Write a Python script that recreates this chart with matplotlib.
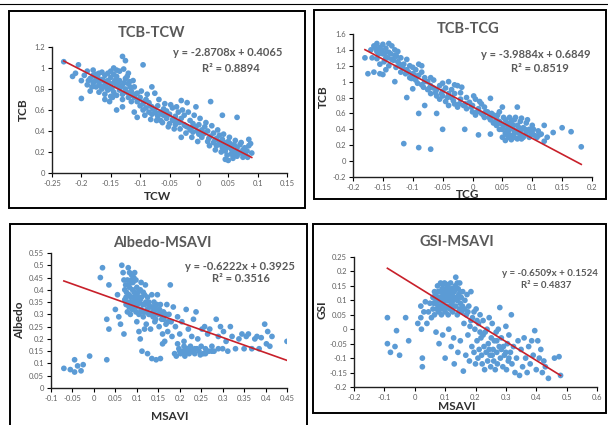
import matplotlib
matplotlib.use("Agg")
import matplotlib.pyplot as plt
from matplotlib.patches import Rectangle
from matplotlib.lines import Line2D
from matplotlib.ticker import MultipleLocator, FuncFormatter
import numpy as np

plt.rcParams['font.family'] = ['Lato', 'DejaVu Sans']

# ---- panel 1: TCB vs TCW ----
tcw_x = [-0.230, -0.215, -0.210, -0.205, -0.200, -0.200, -0.195, -0.190, -0.190, -0.185,
         -0.185, -0.180, -0.180, -0.180, -0.175, -0.175, -0.170, -0.170, -0.170, -0.165,
         -0.165, -0.160, -0.160, -0.160, -0.155, -0.155, -0.150, -0.150, -0.150, -0.145,
         -0.145, -0.145, -0.140, -0.140, -0.140, -0.140, -0.135, -0.135, -0.135, -0.130,
         -0.130, -0.130, -0.130, -0.125, -0.125, -0.125, -0.120, -0.120, -0.120, -0.115,
         -0.115, -0.110, -0.110, -0.110, -0.105, -0.105, -0.105, -0.100, -0.100, -0.095,
         -0.095, -0.095, -0.090, -0.090, -0.085, -0.085, -0.080, -0.080, -0.080, -0.075,
         -0.075, -0.070, -0.070, -0.065, -0.065, -0.060, -0.060, -0.055, -0.055, -0.050,
         -0.050, -0.045, -0.045, -0.040, -0.040, -0.035, -0.035, -0.030, -0.030, -0.030,
         -0.025, -0.025, -0.020, -0.020, -0.015, -0.015, -0.010, -0.010, -0.005, -0.005,
         0.000, 0.000, 0.005, 0.005, 0.010, 0.010, 0.015, 0.015, 0.020, 0.020,
         0.025, 0.025, 0.030, 0.030, 0.035, 0.035, 0.040, 0.040, 0.040, 0.045,
         0.045, 0.045, 0.050, 0.050, 0.050, 0.055, 0.055, 0.060, 0.060, 0.065,
         0.065, 0.065, 0.070, 0.070, 0.075, 0.075, 0.080, 0.085, 0.085, 0.090,
         -0.175, -0.165, -0.155, -0.150, -0.145, -0.140, -0.128, -0.122, -0.118, -0.112,
         -0.160, -0.152, -0.147, -0.130, -0.115, -0.098, -0.088, -0.068, -0.058, -0.048,
         -0.038, -0.028, -0.018, -0.008, 0.002, 0.012, 0.022, 0.032, 0.042, 0.052,
         0.062, 0.072, 0.078, 0.082, 0.088, 0.058, 0.048, 0.038, 0.028, 0.018,
         -0.002, -0.012, -0.022, -0.032, -0.042, -0.052, -0.062, -0.072, -0.082, -0.092,
         -0.188, -0.182, -0.178, -0.172, -0.168, -0.162, -0.158, -0.153, -0.148, -0.143,
         -0.138, -0.133, -0.127, -0.123, -0.117, -0.108, -0.102, -0.093, -0.083, -0.078,
         -0.073, -0.063, -0.053, -0.043, -0.033, -0.023, -0.013, -0.003, 0.007, 0.017,
         0.027, 0.037, 0.047, 0.057, 0.067, 0.077, 0.083, 0.062, 0.053, 0.043]
tcw_y = [1.06, 0.92, 0.95, 1.03, 0.71, 0.88, 0.93, 0.84, 0.97, 0.90,
         0.78, 0.86, 0.93, 0.98, 0.82, 0.90, 0.77, 0.86, 0.95, 0.80,
         0.89, 0.75, 0.84, 0.93, 0.79, 0.88, 0.73, 0.82, 0.91, 1.00,
         0.77, 0.86, 0.74, 0.83, 0.92, 0.60, 0.79, 0.88, 0.97, 1.11,
         0.75, 0.84, 0.63, 1.07, 0.80, 0.90, 0.72, 0.85, 0.95, 0.68,
         0.78, 0.58, 0.72, 0.82, 0.53, 0.68, 0.76, 0.64, 0.72, 1.03,
         0.66, 0.60, 0.70, 0.62, 0.58, 0.67, 0.82, 0.63, 0.56, 0.76,
         0.60, 0.54, 0.64, 0.58, 0.50, 0.61, 0.55, 0.52, 0.59, 0.47,
         0.56, 0.62, 0.51, 0.54, 0.46, 0.58, 0.49, 0.69, 0.34, 0.52,
         0.46, 0.55, 0.67, 0.44, 0.50, 0.41, 0.47, 0.39, 0.63, 0.44,
         0.37, 0.46, 0.41, 0.34, 0.44, 0.38, 0.30, 0.40, 0.68, 0.35,
         0.29, 0.38, 0.33, 0.26, 0.36, 0.30, 0.55, 0.24, 0.32, 0.13,
         0.28, 0.21, 0.12, 0.25, 0.30, 0.18, 0.23, 0.27, 0.20, 0.53,
         0.16, 0.24, 0.19, 0.27, 0.15, 0.22, 0.17, 0.32, 0.26, 0.19,
         0.94, 0.96, 0.95, 0.97, 0.94, 0.98, 0.99, 0.92, 0.87, 0.88,
         0.70, 0.68, 0.72, 0.70, 0.74, 0.78, 0.75, 0.70, 0.66, 0.65,
         0.63, 0.60, 0.58, 0.55, 0.52, 0.48, 0.45, 0.41, 0.37, 0.34,
         0.31, 0.29, 0.24, 0.21, 0.28, 0.14, 0.17, 0.20, 0.22, 0.26,
         0.30, 0.34, 0.38, 0.42, 0.42, 0.44, 0.48, 0.50, 0.51, 0.55,
         0.88, 0.82, 0.87, 0.91, 0.83, 0.88, 0.82, 0.86, 0.80, 0.88,
         0.86, 0.82, 0.86, 0.77, 0.82, 0.75, 0.70, 0.68, 0.64, 0.61,
         0.57, 0.56, 0.55, 0.50, 0.48, 0.45, 0.43, 0.40, 0.37, 0.33,
         0.31, 0.27, 0.24, 0.21, 0.20, 0.19, 0.15, 0.17, 0.28, 0.29]

# ---- panel 2: TCB vs TCG ----
tcg_x = [-0.180, -0.175, -0.170, -0.168, -0.165, -0.165, -0.160, -0.160, -0.160, -0.155,
         -0.155, -0.155, -0.150, -0.150, -0.150, -0.148, -0.145, -0.145, -0.140, -0.140,
         -0.140, -0.135, -0.135, -0.130, -0.130, -0.130, -0.128, -0.125, -0.125, -0.120,
         -0.120, -0.115, -0.115, -0.110, -0.110, -0.110, -0.105, -0.105, -0.100, -0.100,
         -0.095, -0.095, -0.090, -0.090, -0.090, -0.085, -0.085, -0.080, -0.080, -0.080,
         -0.075, -0.075, -0.070, -0.070, -0.070, -0.065, -0.065, -0.060, -0.060, -0.060,
         -0.055, -0.055, -0.050, -0.050, -0.050, -0.045, -0.045, -0.040, -0.040, -0.040,
         -0.035, -0.035, -0.030, -0.030, -0.025, -0.025, -0.020, -0.020, -0.015, -0.013,
         -0.010, -0.010, -0.005, 0.000, 0.000, 0.005, 0.005, 0.010, 0.010, 0.015,
         0.015, 0.020, 0.020, 0.025, 0.030, 0.030, 0.030, 0.035, 0.035, 0.040,
         0.040, 0.045, 0.045, 0.050, 0.050, 0.050, 0.055, 0.055, 0.055, 0.060,
         0.060, 0.060, 0.065, 0.065, 0.065, 0.070, 0.070, 0.070, 0.075, 0.075,
         0.075, 0.080, 0.080, 0.080, 0.085, 0.085, 0.090, 0.090, 0.095, 0.095,
         0.100, 0.100, 0.105, 0.110, 0.115, 0.120, 0.120, 0.125, 0.135, 0.150,
         0.165, 0.182, -0.145, -0.120, -0.100, -0.090, -0.085, -0.070, -0.050, -0.030,
         -0.018, 0.002, 0.012, 0.022, 0.032, 0.042, 0.052, 0.062, 0.072, 0.082,
         0.058, 0.068, 0.078, 0.088, 0.098, 0.108, 0.062, 0.052, 0.045, 0.092,
         -0.162, -0.157, -0.152, -0.147, -0.142, -0.137, -0.132, -0.127, -0.122, -0.117,
         -0.112, -0.107, -0.102, -0.097, -0.092, -0.082, -0.072, -0.062, -0.052, -0.042,
         -0.032, -0.022, -0.012, -0.002, 0.008, 0.018, 0.028, 0.038, 0.048, 0.058,
         0.068, 0.078, 0.088, 0.098, 0.058, 0.068, 0.082, 0.102, 0.112, 0.072]
tcg_y = [1.30, 1.10, 1.40, 1.30, 1.45, 1.12, 1.48, 1.38, 1.29, 1.10,
         1.43, 1.22, 1.09, 1.47, 1.35, 1.25, 1.42, 1.30, 1.48, 1.20,
         1.37, 1.45, 1.28, 1.40, 1.00, 1.33, 1.18, 1.38, 1.25, 1.30,
         1.12, 0.22, 1.22, 0.80, 1.28, 1.15, 1.05, 1.20, 0.91, 1.10,
         1.15, 1.02, 0.17, 0.60, 1.08, 0.96, 1.12, 0.70, 1.00, 1.05,
         0.90, 1.00, 0.15, 0.95, 0.85, 0.92, 1.02, 0.60, 0.82, 0.90,
         0.95, 0.78, 0.40, 0.88, 0.82, 0.75, 0.92, 1.00, 0.85, 0.70,
         0.80, 0.90, 0.72, 0.85, 0.95, 0.68, 0.78, 0.86, 0.70, 0.40,
         0.80, 0.66, 0.74, 0.62, 0.70, 0.78, 0.58, 0.33, 0.66, 0.60,
         0.72, 0.55, 0.68, 0.62, 0.79, 0.34, 0.52, 0.58, 0.48, 0.55,
         0.45, 0.50, 0.62, 0.68, 0.40, 0.30, 0.52, 0.35, 0.26, 0.45,
         0.30, 0.38, 0.50, 0.27, 0.42, 0.35, 0.52, 0.30, 0.68, 0.45,
         0.28, 0.38, 0.50, 0.32, 0.42, 0.30, 0.48, 0.36, 0.40, 0.30,
         0.35, 0.45, 0.32, 0.38, 0.34, 0.25, 0.45, 0.30, 0.36, 0.42,
         0.37, 0.18, 1.15, 1.20, 1.18, 1.22, 1.20, 1.05, 0.98, 0.96,
         0.93, 0.82, 0.75, 0.62, 0.60, 0.58, 0.55, 0.55, 0.55, 0.54,
         0.48, 0.40, 0.35, 0.33, 0.38, 0.30, 0.33, 0.45, 0.40, 0.52,
         1.42, 1.35, 1.40, 1.36, 1.30, 1.35, 1.27, 1.32, 1.22, 1.18,
         1.10, 1.12, 1.04, 1.08, 0.98, 0.93, 0.92, 0.86, 0.85, 0.80,
         0.76, 0.72, 0.72, 0.68, 0.62, 0.58, 0.55, 0.50, 0.47, 0.40,
         0.45, 0.42, 0.40, 0.33, 0.33, 0.32, 0.28, 0.40, 0.33, 0.38]

# ---- panel 3: Albedo vs MSAVI ----
alb_x = [-0.070, -0.055, -0.045, -0.045, -0.038, -0.030, -0.025, -0.010, 0.030, 0.015,
         0.020, 0.030, 0.035, 0.035, 0.050, 0.055, 0.058, 0.062, 0.070, 0.065,
         0.068, 0.070, 0.072, 0.075, 0.075, 0.078, 0.080, 0.080, 0.082, 0.085,
         0.085, 0.088, 0.090, 0.090, 0.092, 0.095, 0.095, 0.098, 0.100, 0.100,
         0.100, 0.102, 0.105, 0.105, 0.108, 0.110, 0.110, 0.112, 0.115, 0.115,
         0.118, 0.120, 0.120, 0.122, 0.125, 0.125, 0.128, 0.130, 0.132, 0.135,
         0.135, 0.138, 0.140, 0.142, 0.145, 0.145, 0.148, 0.150, 0.152, 0.155,
         0.155, 0.158, 0.160, 0.162, 0.165, 0.168, 0.170, 0.172, 0.175, 0.178,
         0.180, 0.182, 0.185, 0.188, 0.190, 0.192, 0.195, 0.198, 0.200, 0.202,
         0.205, 0.208, 0.210, 0.212, 0.215, 0.218, 0.220, 0.222, 0.225, 0.228,
         0.230, 0.232, 0.235, 0.238, 0.240, 0.242, 0.245, 0.250, 0.252, 0.255,
         0.258, 0.260, 0.265, 0.268, 0.270, 0.275, 0.280, 0.285, 0.290, 0.295,
         0.300, 0.302, 0.308, 0.312, 0.318, 0.322, 0.330, 0.338, 0.345, 0.350,
         0.355, 0.360, 0.368, 0.375, 0.380, 0.385, 0.390, 0.398, 0.402, 0.405,
         0.410, 0.415, 0.450, 0.108, 0.118, 0.160, 0.195, 0.210, 0.228, 0.248,
         0.078, 0.088, 0.098, 0.108, 0.118, 0.128, 0.138, 0.102, 0.092, 0.082,
         0.072, 0.076, 0.079, 0.083, 0.086, 0.089, 0.091, 0.094, 0.097, 0.099,
         0.103, 0.106, 0.109, 0.111, 0.114, 0.117, 0.121, 0.124, 0.127, 0.131,
         0.134, 0.137, 0.141, 0.144, 0.147, 0.153, 0.157, 0.163, 0.168, 0.173,
         0.083, 0.087, 0.093, 0.074, 0.200, 0.215, 0.235, 0.260, 0.275, 0.290]
alb_y = [0.080, 0.075, 0.065, 0.115, 0.090, 0.070, 0.095, 0.130, 0.115, 0.450,
         0.490, 0.280, 0.420, 0.240, 0.320, 0.380, 0.290, 0.260, 0.220, 0.500,
         0.470, 0.440, 0.400, 0.370, 0.340, 0.310, 0.490, 0.420, 0.380, 0.350,
         0.300, 0.460, 0.400, 0.330, 0.370, 0.470, 0.350, 0.310, 0.410, 0.380,
         0.270, 0.340, 0.300, 0.230, 0.360, 0.430, 0.320, 0.150, 0.390, 0.290,
         0.340, 0.420, 0.310, 0.260, 0.370, 0.140, 0.300, 0.330, 0.240, 0.380,
         0.120, 0.290, 0.350, 0.270, 0.115, 0.320, 0.380, 0.300, 0.250, 0.120,
         0.340, 0.280, 0.220, 0.310, 0.190, 0.260, 0.340, 0.230, 0.300, 0.420,
         0.270, 0.210, 0.330, 0.140, 0.250, 0.130, 0.290, 0.160, 0.220, 0.140,
         0.270, 0.150, 0.190, 0.130, 0.320, 0.160, 0.240, 0.140, 0.170, 0.210,
         0.150, 0.280, 0.140, 0.310, 0.160, 0.200, 0.150, 0.170, 0.240, 0.140,
         0.250, 0.160, 0.220, 0.150, 0.240, 0.170, 0.150, 0.280, 0.210, 0.250,
         0.160, 0.230, 0.190, 0.150, 0.250, 0.210, 0.160, 0.200, 0.220, 0.160,
         0.210, 0.220, 0.160, 0.200, 0.210, 0.160, 0.205, 0.260, 0.180, 0.230,
         0.170, 0.210, 0.190, 0.200, 0.240, 0.180, 0.180, 0.170, 0.150, 0.135,
         0.440, 0.430, 0.440, 0.400, 0.380, 0.350, 0.330, 0.370, 0.350, 0.330,
         0.360, 0.390, 0.350, 0.410, 0.370, 0.320, 0.430, 0.390, 0.360, 0.330,
         0.390, 0.350, 0.310, 0.370, 0.340, 0.310, 0.350, 0.320, 0.340, 0.300,
         0.330, 0.310, 0.300, 0.280, 0.340, 0.320, 0.300, 0.280, 0.300, 0.270,
         0.470, 0.440, 0.450, 0.420, 0.150, 0.145, 0.160, 0.140, 0.150, 0.160]

# ---- panel 4: GSI vs MSAVI ----
gsi_x = [-0.090, -0.090, -0.080, -0.065, -0.060, -0.050, -0.030, -0.020, 0.010, 0.020,
         0.020, 0.025, 0.025, 0.022, 0.030, 0.035, 0.040, 0.045, 0.050, 0.055,
         0.060, 0.060, 0.065, 0.065, 0.070, 0.070, 0.075, 0.075, 0.078, 0.080,
         0.080, 0.082, 0.085, 0.085, 0.088, 0.090, 0.090, 0.092, 0.095, 0.095,
         0.098, 0.100, 0.100, 0.100, 0.102, 0.105, 0.105, 0.108, 0.110, 0.110,
         0.112, 0.115, 0.115, 0.118, 0.120, 0.120, 0.122, 0.125, 0.125, 0.128,
         0.130, 0.132, 0.135, 0.135, 0.138, 0.140, 0.142, 0.145, 0.148, 0.150,
         0.150, 0.155, 0.158, 0.160, 0.162, 0.165, 0.168, 0.170, 0.172, 0.175,
         0.178, 0.180, 0.182, 0.185, 0.188, 0.190, 0.195, 0.198, 0.200, 0.202,
         0.205, 0.208, 0.210, 0.212, 0.215, 0.218, 0.220, 0.222, 0.225, 0.228,
         0.230, 0.232, 0.235, 0.238, 0.240, 0.242, 0.245, 0.248, 0.250, 0.252,
         0.255, 0.258, 0.260, 0.262, 0.265, 0.268, 0.270, 0.272, 0.275, 0.278,
         0.280, 0.282, 0.285, 0.290, 0.292, 0.295, 0.300, 0.302, 0.305, 0.308,
         0.310, 0.315, 0.318, 0.320, 0.325, 0.330, 0.335, 0.340, 0.345, 0.350,
         0.355, 0.360, 0.365, 0.370, 0.375, 0.380, 0.385, 0.390, 0.395, 0.400,
         0.405, 0.410, 0.415, 0.420, 0.425, 0.430, 0.440, 0.460, 0.475, 0.480,
         0.070, 0.080, 0.090, 0.100, 0.110, 0.120, 0.130, 0.140, 0.092, 0.105,
         0.062, 0.068, 0.072, 0.077, 0.083, 0.087, 0.093, 0.097, 0.103, 0.107,
         0.113, 0.117, 0.123, 0.127, 0.133, 0.137, 0.143, 0.147, 0.153, 0.157,
         0.097, 0.087, 0.077, 0.113, 0.127, 0.140, 0.150, 0.165, 0.175, 0.185,
         0.195, 0.205, 0.215, 0.225, 0.245, 0.255, 0.270, 0.285, 0.300, 0.310]
gsi_y = [0.040, -0.050, -0.080, -0.060, -0.005, -0.090, 0.040, -0.040, 0.020, 0.080,
         0.040, -0.100, -0.130, 0.000, 0.060, 0.095, 0.020, 0.060, 0.090, 0.040,
         0.110, 0.070, 0.130, 0.050, 0.090, -0.010, 0.150, 0.110, 0.060, 0.130,
         -0.050, 0.080, 0.160, 0.100, 0.050, 0.140, 0.110, -0.020, 0.130, 0.080,
         0.160, 0.100, 0.060, -0.100, 0.140, 0.120, 0.080, 0.150, 0.100, 0.050,
         0.000, 0.130, 0.070, 0.160, 0.110, -0.060, 0.090, 0.140, 0.060, -0.030,
         -0.120, 0.110, 0.180, 0.080, 0.140, 0.050, -0.080, 0.120, 0.160, 0.090,
         -0.040, 0.060, 0.130, -0.145, 0.020, 0.100, -0.090, 0.050, 0.120, -0.020,
         0.080, -0.110, 0.010, 0.130, -0.060, 0.040, -0.080, 0.000, -0.120, 0.070,
         -0.040, -0.100, 0.020, -0.070, 0.050, -0.030, -0.090, -0.120, 0.030, -0.060,
         -0.140, -0.010, -0.080, 0.000, -0.110, -0.050, 0.040, -0.090, -0.130, -0.030,
         0.020, -0.070, -0.110, -0.040, -0.140, -0.010, -0.080, -0.120, 0.000, -0.060,
         0.075, -0.100, -0.030, -0.130, -0.060, -0.090, 0.010, -0.140, -0.050, -0.110,
         -0.020, -0.080, 0.050, -0.120, -0.060, -0.150, -0.100, -0.040, -0.160, -0.070,
         -0.130, -0.030, -0.100, -0.150, -0.060, -0.120, -0.040, -0.090, -0.005, -0.140,
         -0.040, -0.100, -0.070, -0.150, -0.110, -0.130, -0.170, -0.100, -0.095, -0.160,
         0.100, 0.100, 0.090, 0.120, 0.130, 0.140, 0.130, 0.100, 0.155, 0.155,
         0.090, 0.120, 0.070, 0.130, 0.110, 0.130, 0.120, 0.100, 0.110, 0.140,
         0.110, 0.120, 0.120, 0.100, 0.150, 0.110, 0.140, 0.070, 0.110, 0.080,
         0.070, 0.070, 0.080, 0.080, 0.080, 0.160, 0.130, 0.070, 0.060, 0.030,
         0.060, 0.030, -0.010, -0.020, -0.070, -0.090, -0.040, -0.070, -0.080, -0.100]

# trendline equations shown on the chart
titles = ['TCB-TCW', 'TCB-TCG', 'Albedo-MSAVI', 'GSI-MSAVI']
xlabels = ['TCW', 'TCG', 'MSAVI', 'MSAVI']
ylabels = ['TCB', 'TCB', 'Albedo', 'GSI']
slopes = [-2.8708, -3.9884, -0.6222, -0.6509]
intercepts = [0.4065, 0.6849, 0.3925, 0.1524]
r2 = [0.8894, 0.8519, 0.3516, 0.4837]

W, H = 608, 425
fig = plt.figure(figsize=(W / 100, H / 100), dpi=100)

def fx(px):
    return px / W

def fy(py):
    return 1 - py / H

def fmt(v, p):
    return '%g' % (round(v, 3) + 0.0)

# boxes around each panel (pixels: left, top, right, bottom)
boxes = [(9, 11, 305, 208), (314, 10, 606, 199), (10, 224, 307, 432), (313, 224, 606, 413)]
for l, t, r, b in boxes:
    fig.add_artist(Rectangle((fx(l), fy(b)), fx(r - l), (b - t) / H, transform=fig.transFigure,
                             fill=False, edgecolor='black', linewidth=1.4))
fig.add_artist(Line2D([0, 1], [fy(4), fy(4)], transform=fig.transFigure, color='black', linewidth=0.8))

# axes rectangles in pixels
axpos = [(52, 47, 287, 173), (353, 34, 592, 177), (51, 253, 287, 388), (354, 257, 597, 387)]
lims = [((-0.25, 0.15), (0, 1.2)), ((-0.2, 0.2), (-0.2, 1.6)),
        ((-0.1, 0.45), (0, 0.55)), ((-0.2, 0.6), (-0.2, 0.25))]
steps = [(0.05, 0.2), (0.05, 0.2), (0.05, 0.05), (0.1, 0.05)]
data = [(tcw_x, tcw_y), (tcg_x, tcg_y), (alb_x, alb_y), (gsi_x, gsi_y)]

# text positions in pixels: title, equation, r2, xlabel, ylabel
title_pos = [(152, 33), (468, 29), (162, 243), (457, 242)]
eq_pos = [(228, 52), (536, 55), (240, 266), (550, 273)]
r2_pos = [(231, 68), (540, 68), (241, 278), (546, 286)]
xl_pos = [(158, 196), (468, 195), (170, 416), (457, 407)]
yl_pos = [(23, 110), (323, 97), (20, 320), (322, 310)]

blue = '#5B9BD5'
red = '#C8202A'
gray = '#595959'

for i in range(4):
    l, t, r, b = axpos[i]
    ax = fig.add_axes([fx(l), fy(b), fx(r - l), (b - t) / H])
    x, y = data[i]
    ax.scatter(x, y, s=17, color=blue, edgecolors='none', zorder=2)
    xs = np.array([min(x), max(x)])
    ax.plot(xs, slopes[i] * xs + intercepts[i], color=red, linewidth=1.2, zorder=3)
    ax.set_xlim(*lims[i][0])
    ax.set_ylim(*lims[i][1])
    ax.xaxis.set_major_locator(MultipleLocator(steps[i][0]))
    ax.yaxis.set_major_locator(MultipleLocator(steps[i][1]))
    ax.xaxis.set_major_formatter(FuncFormatter(fmt))
    ax.yaxis.set_major_formatter(FuncFormatter(fmt))
    for s in ['top', 'right']:
        ax.spines[s].set_visible(False)
    for s in ['left', 'bottom']:
        ax.spines[s].set_color('#202020')
        ax.spines[s].set_linewidth(1.0)
    ax.tick_params(direction='out', length=3, width=0.8, labelsize=5.5, labelcolor='#606060', pad=2)
    ax.patch.set_alpha(0)

    fig.text(fx(title_pos[i][0]), fy(title_pos[i][1]), titles[i], ha='center', va='center',
             fontsize=10.5, fontweight='bold', color=gray)
    sign = '-' if slopes[i] < 0 else ''
    eq = 'y = %s%.4fx + %.4f' % (sign, abs(slopes[i]), intercepts[i])
    size = 8 if i < 3 else 7
    fig.text(fx(eq_pos[i][0]), fy(eq_pos[i][1]), eq, ha='center', va='center',
             fontsize=size, fontweight='bold', color=gray)
    fig.text(fx(r2_pos[i][0]), fy(r2_pos[i][1]), 'R² = %.4f' % r2[i], ha='center', va='center',
             fontsize=size, fontweight='bold', color=gray)
    fig.text(fx(xl_pos[i][0]), fy(xl_pos[i][1]), xlabels[i], ha='center', va='center',
             fontsize=8.5, fontweight='bold', color='#303030')
    fig.text(fx(yl_pos[i][0]), fy(yl_pos[i][1]), ylabels[i], ha='center', va='center',
             fontsize=8.5, fontweight='bold', color='#303030', rotation=90)

fig.savefig('out.png', dpi=100)
